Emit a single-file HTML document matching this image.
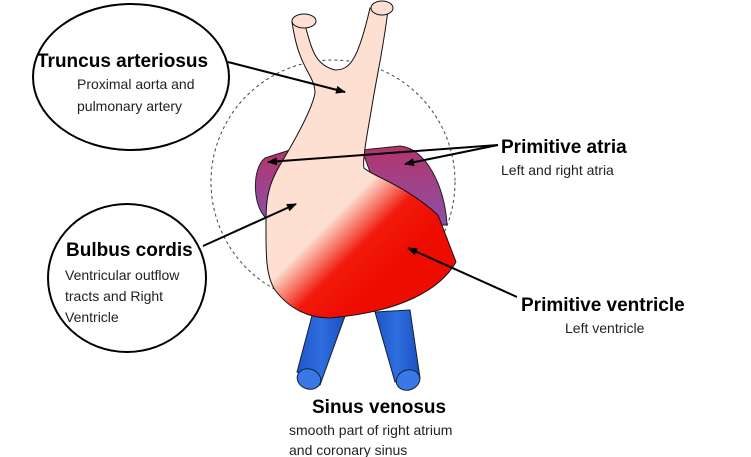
<!DOCTYPE html>
<html><head><style>
body{margin:0;background:#fff;}
svg{display:block}
text{font-family:"Liberation Sans",sans-serif;}
.t{font-weight:bold;font-size:19px;fill:#000}
.s{font-size:14px;fill:#222}
</style></head><body>
<svg width="751" height="457" viewBox="0 0 751 457">
<defs>
<linearGradient id="g" x1="0" y1="0" x2="1" y2="1" gradientUnits="userSpaceOnUse" gradientTransform="translate(318,205) scale(70,70)">
<stop offset="0" stop-color="#fde0d2"/><stop offset="0.2" stop-color="#fde0d2"/><stop offset="0.6" stop-color="#f21a0c"/><stop offset="1" stop-color="#ee0b00"/>
</linearGradient>
<linearGradient id="p" x1="0" y1="0" x2="0" y2="1">
<stop offset="0" stop-color="#b2356a"/><stop offset="1" stop-color="#8e4fa8"/>
</linearGradient>
<linearGradient id="v" x1="0" y1="0" x2="1" y2="0">
<stop offset="0" stop-color="#1f55c8"/><stop offset="0.5" stop-color="#2f6ee0"/><stop offset="1" stop-color="#1c4fbf"/>
</linearGradient>
<marker id="a" markerWidth="10" markerHeight="8" refX="9" refY="4" orient="auto" markerUnits="userSpaceOnUse"><path d="M0,0 L10,4 L0,8 z" fill="#000"/></marker>
</defs>
<circle cx="333" cy="182" r="122" fill="none" stroke="#444" stroke-dasharray="3,3" stroke-width="1"/>
<!-- veins -->
<path d="M313,312 L297,372 L320,385 L345,316 Z" fill="url(#v)" stroke="#123" stroke-width="1"/>
<ellipse cx="309" cy="379" rx="12" ry="10" transform="rotate(20 309 379)" fill="#3a78e8" stroke="#123"/>
<path d="M375,312 L395,382 L420,378 L410,310 Z" fill="url(#v)" stroke="#123" stroke-width="1"/>
<ellipse cx="408" cy="380" rx="12" ry="10" transform="rotate(-20 408 380)" fill="#3a78e8" stroke="#123"/>
<!-- atria -->
<path d="M290,150 L265,158 C252,168 252,205 266,218 L275,175 Z" fill="url(#p)" stroke="#222"/>
<path d="M362,150 L400,146 C425,148 445,185 447,225 L440,225 L370,172 Z" fill="url(#p)" stroke="#222"/>
<!-- trunk + body -->
<path d="M292,22 L305,25 C312,50 315,65 335,70 C350,70 358,60 370,8 L388,10 C383,50 378,70 373,100 C368,130 362,160 364,168 C372,176 405,185 438,215 L456,262 C440,290 400,312 330,318 C310,318 290,310 275,290 C265,275 266,250 266,220 C266,200 268,185 280,165 C295,140 312,110 315,93 C315,80 306,72 300,55 C296,45 294,35 292,22 Z" fill="url(#g)" stroke="#111" stroke-width="1"/>
<ellipse cx="304" cy="21" rx="12" ry="7" fill="#fde0d2" stroke="#111"/>
<ellipse cx="382" cy="8" rx="11" ry="7" fill="#fde0d2" stroke="#111"/>
<!-- ellipses -->
<ellipse cx="131" cy="77" rx="98" ry="73" fill="#fff" stroke="#000" stroke-width="2"/>
<ellipse cx="127" cy="278" rx="79" ry="74" fill="#fff" stroke="#000" stroke-width="2"/>
<text x="37" y="67" class="t">Truncus arteriosus</text>
<text x="77" y="89" class="s">Proximal aorta and</text>
<text x="77" y="111" class="s">pulmonary artery</text>
<text x="66" y="256" class="t">Bulbus cordis</text>
<text x="65" y="280" class="s">Ventricular outflow</text>
<text x="65" y="301" class="s">tracts and Right</text>
<text x="65" y="322" class="s">Ventricle</text>
<text x="501" y="153" class="t">Primitive atria</text>
<text x="501" y="175" class="s">Left and right atria</text>
<text x="521" y="311" class="t">Primitive ventricle</text>
<text x="565" y="333" class="s">Left ventricle</text>
<text x="312" y="413" class="t">Sinus venosus</text>
<text x="289" y="435" class="s">smooth part of right atrium</text>
<text x="289" y="455" class="s">and coronary sinus</text>
<!-- arrows -->
<g stroke="#000" stroke-width="2" fill="none">
<line x1="228" y1="62" x2="345" y2="92" marker-end="url(#a)"/>
<line x1="498" y1="145" x2="268" y2="162" marker-end="url(#a)"/>
<line x1="498" y1="145" x2="405" y2="164" marker-end="url(#a)"/>
<line x1="203" y1="246" x2="296" y2="204" marker-end="url(#a)"/>
<line x1="517" y1="297" x2="408" y2="248" marker-end="url(#a)"/>
</g>
</svg>
</body></html>
